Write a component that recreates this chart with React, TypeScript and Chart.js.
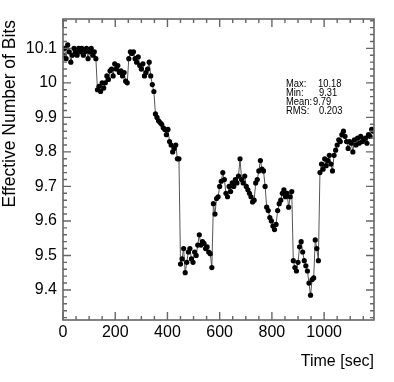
import React, { useEffect, useRef } from "react";
import { Chart, registerables } from "chart.js";

Chart.register(...registerables);

// Time [sec]
const times: number[] = [
  0, 6, 12, 18, 24, 30, 36, 42, 48, 54, 60, 66, 72, 78, 84, 90, 96, 102, 108, 114, 120, 126,
  132, 138, 144, 150, 156, 162, 168, 174, 180, 186, 192, 198, 204, 210, 216, 222, 228, 234, 240, 246,
  252, 258, 264, 270, 276, 282, 288, 294, 300, 306, 312, 318, 324, 330, 336, 342, 348,
  354, 360, 366, 372, 378, 384, 390, 396, 402, 408, 414, 420, 426, 432, 438, 444,
  450, 456, 462, 468, 474, 480, 486, 492, 498, 504, 510, 516, 522, 528, 534, 540, 546, 552, 558, 564, 570,
  576, 582, 588, 594, 600, 606, 612, 618, 624, 630, 636, 642, 648, 654, 660, 666, 672, 678, 684, 690,
  696, 702, 708, 714, 720, 726, 732, 738, 744, 750, 756, 762, 768, 774,
  780, 786, 792, 798, 804, 810, 816, 822, 828, 834, 840, 846, 852, 858, 864, 870, 876,
  882, 888, 894, 900, 906, 912, 918, 924, 930, 936, 942, 948, 954, 960, 966, 972, 978,
  984, 990, 996, 1002, 1008, 1014, 1020, 1026, 1032, 1038, 1044, 1050, 1056, 1062, 1068, 1074, 1080,
  1086, 1092, 1098, 1104, 1110, 1116, 1122, 1128, 1134, 1140, 1146, 1152, 1158, 1164, 1170, 1176, 1182, 1188,
];

// Effective Number of Bits
const enob: number[] = [
  10.08, 10.1, 10.07, 10.11, 10.09, 10.06, 10.08, 10.1, 10.09, 10.08, 10.1, 10.09, 10.1, 10.08, 10.09, 10.1, 10.07, 10.09, 10.1, 10.08, 10.09, 10.07,
  9.98, 9.99, 9.975, 10.0, 9.985, 10.0, 10.02, 10.01, 10.035, 10.04, 10.02, 10.055, 10.04, 10.05, 10.03, 10.035, 10.02, 10.03, 10.005, 10.0,
  10.07, 10.09, 10.085, 10.09, 10.07, 10.06, 10.075, 10.05, 10.04, 10.055, 10.02, 10.03, 10.04, 10.06, 10.02, 9.995, 9.975,
  9.91, 9.9, 9.89, 9.885, 9.88, 9.87, 9.865, 9.85, 9.865, 9.83, 9.82, 9.8, 9.81, 9.82, 9.78, 9.78,
  9.475, 9.49, 9.52, 9.45, 9.48, 9.51, 9.52, 9.49, 9.48, 9.51, 9.5, 9.53, 9.56, 9.53, 9.54, 9.535, 9.52, 9.525, 9.51, 9.505, 9.465,
  9.65, 9.62, 9.665, 9.67, 9.7, 9.715, 9.74, 9.72, 9.68, 9.67, 9.7, 9.685, 9.71, 9.7, 9.72, 9.71, 9.73, 9.78, 9.72, 9.71,
  9.73, 9.7, 9.69, 9.68, 9.67, 9.655, 9.66, 9.71, 9.72, 9.745, 9.775, 9.75, 9.745, 9.7,
  9.64, 9.63, 9.61, 9.6, 9.585, 9.575, 9.59, 9.63, 9.65, 9.66, 9.68, 9.69, 9.67, 9.68, 9.64, 9.67, 9.685,
  9.485, 9.465, 9.455, 9.48, 9.525, 9.54, 9.51, 9.485, 9.47, 9.455, 9.42, 9.385, 9.43, 9.435, 9.545, 9.52, 9.485,
  9.74, 9.765, 9.75, 9.78, 9.76, 9.775, 9.79, 9.765, 9.745, 9.79, 9.805, 9.82, 9.835, 9.83, 9.85, 9.86, 9.845,
  9.83, 9.81, 9.83, 9.825, 9.8, 9.835, 9.82, 9.84, 9.825, 9.845, 9.83, 9.835, 9.84, 9.825, 9.85, 9.845, 9.865, 9.86,
];

const xTickValues = [0, 200, 400, 600, 800, 1000];
const yTickValues = [9.4, 9.5, 9.6, 9.7, 9.8, 9.9, 10.0, 10.1];
const xRange = [0, 1191];
const yRange = [9.313, 10.185];
const xMinorStep = 50;
const yMinorStep = 0.02;

const statLabels = ["Max:", "Min:", "Mean:", "RMS:"];
const statValues = ["10.18", "9.31", "9.79", "0.203"];

const FONT = "'Liberation Sans', Arial, Helvetica, sans-serif";

const framePlugin = {
  id: "rootFrame",
  afterDraw(chart: any) {
    const { ctx, chartArea } = chart;
    const { left, right, top, bottom } = chartArea;
    const xs = chart.scales.x;
    const ys = chart.scales.y;
    ctx.save();
    ctx.strokeStyle = "#666";
    ctx.lineWidth = 1.6;
    ctx.strokeRect(left, top, right - left, bottom - top);
    ctx.lineWidth = 1.4;
    ctx.beginPath();
    // x ticks
    for (let v = xRange[0]; v <= xRange[1]; v += xMinorStep) {
      const px = xs.getPixelForValue(v);
      const major = xTickValues.includes(v);
      const len = major ? 8 : 4;
      ctx.moveTo(px, bottom);
      ctx.lineTo(px, bottom - len);
      ctx.moveTo(px, top);
      ctx.lineTo(px, top + len);
    }
    // y ticks
    for (let i = 0; ; i++) {
      const v = Math.round((9.32 + i * yMinorStep) * 100) / 100;
      if (v > yRange[1]) break;
      const py = ys.getPixelForValue(v);
      const major = yTickValues.some((t) => Math.abs(t - v) < 1e-6);
      const len = major ? 8 : 4;
      ctx.moveTo(left, py);
      ctx.lineTo(left + len, py);
      ctx.moveTo(right, py);
      ctx.lineTo(right - len, py);
    }
    ctx.stroke();

    // axis titles
    ctx.fillStyle = "#000";
    ctx.font = `16px ${FONT}`;
    ctx.textAlign = "right";
    ctx.textBaseline = "alphabetic";
    ctx.fillText("Time [sec]", right, 366);
    ctx.save();
    ctx.translate(15, top + 1);
    ctx.rotate(-Math.PI / 2);
    ctx.font = `17.5px ${FONT}`;
    ctx.fillText("Effective Number of Bits", 0, 0);
    ctx.restore();

    // stats box
    ctx.font = `10.4px ${FONT}`;
    ctx.textAlign = "left";
    const valueX = [318, 319, 313, 319];
    const baselines = [87, 96, 105, 114];
    statLabels.forEach((lab, i) => {
      ctx.save();
      ctx.translate(286, baselines[i]);
      ctx.scale(0.9, 1);
      ctx.fillText(lab, 0, 0);
      ctx.restore();
      ctx.save();
      ctx.translate(valueX[i], baselines[i]);
      ctx.scale(0.9, 1);
      ctx.fillText(statValues[i], 0, 0);
      ctx.restore();
    });
    ctx.restore();
  },
};

export default function App() {
  const canvasRef = useRef<HTMLCanvasElement | null>(null);

  useEffect(() => {
    const canvas = canvasRef.current;
    if (!canvas) return;
    const points = times.map((t, i) => ({ x: t, y: enob[i] }));
    const chart = new Chart(canvas, {
      type: "line",
      data: {
        datasets: [
          {
            data: points,
            borderColor: "#555",
            borderWidth: 1,
            pointRadius: 2.6,
            pointBackgroundColor: "#000",
            pointBorderColor: "#000",
            pointBorderWidth: 0,
            tension: 0,
            fill: false,
          },
        ],
      },
      options: {
        animation: false,
        responsive: false,
        devicePixelRatio: 1,
        layout: { padding: { left: 0, top: 19, right: 20, bottom: 0 } },
        plugins: { legend: { display: false }, tooltip: { enabled: false } },
        scales: {
          x: {
            type: "linear",
            min: xRange[0],
            max: xRange[1],
            grid: { display: false, drawTicks: false },
            border: { display: false },
            afterBuildTicks: (s: any) => {
              s.ticks = xTickValues.map((v) => ({ value: v }));
            },
            afterFit: (s: any) => {
              s.height = 62;
            },
            ticks: {
              padding: 3,
              maxRotation: 0,
              autoSkip: false,
              color: "#000",
              font: { family: FONT, size: 16 },
              callback: (v: any) => String(v),
            },
          },
          y: {
            type: "linear",
            min: yRange[0],
            max: yRange[1],
            grid: { display: false, drawTicks: false },
            border: { display: false },
            afterBuildTicks: (s: any) => {
              s.ticks = yTickValues.map((v) => ({ value: v }));
            },
            afterFit: (s: any) => {
              s.width = 63;
            },
            ticks: {
              padding: 6,
              autoSkip: false,
              color: "#000",
              font: { family: FONT, size: 16 },
              callback: (v: any) => String(Math.round(Number(v) * 10) / 10),
            },
          },
        },
      },
      plugins: [framePlugin],
    });
    return () => chart.destroy();
  }, []);

  return (
    <div style={{ position: "absolute", left: 0, top: 0, width: 394, height: 382, background: "#fff" }}>
      <canvas ref={canvasRef} width={394} height={382} style={{ width: 394, height: 382, display: "block" }} />
    </div>
  );
}
